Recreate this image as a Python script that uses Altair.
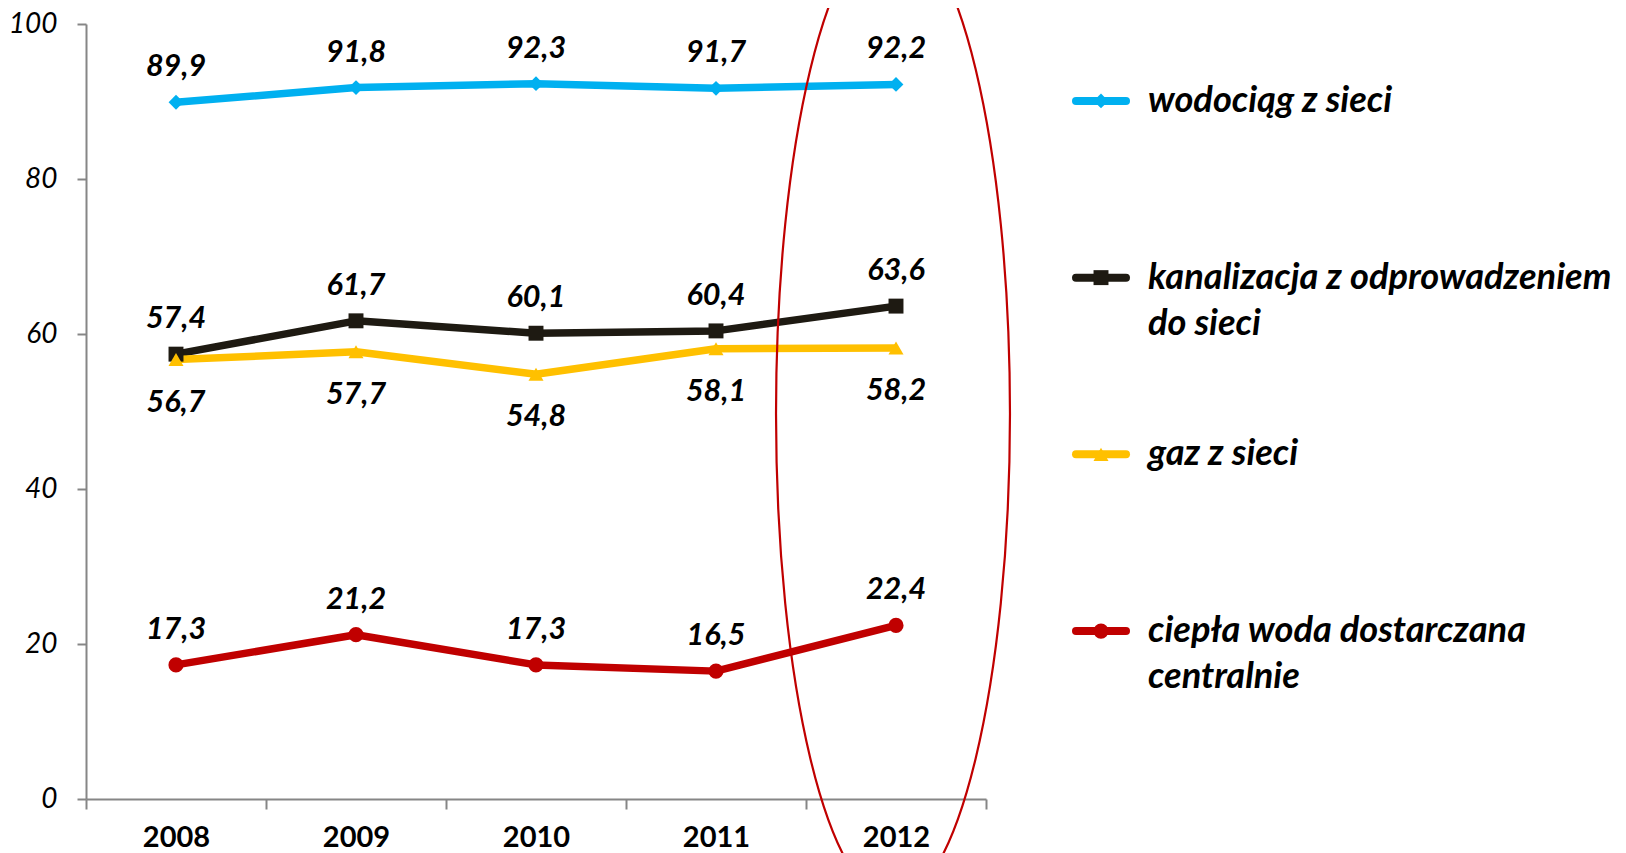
import altair as alt
import pandas as pd

# ---------------- data ----------------
years = ["2008", "2009", "2010", "2011", "2012"]
series_names = [
    "wodociąg z sieci",
    "kanalizacja z odprowadzeniem do sieci",
    "gaz z sieci",
    "ciepła woda dostarczana centralnie",
]
wodociag = [89.9, 91.8, 92.3, 91.7, 92.2]
kanalizacja = [57.4, 61.7, 60.1, 60.4, 63.6]
gaz = [56.7, 57.7, 54.8, 58.1, 58.2]
cieplo = [17.3, 21.2, 17.3, 16.5, 22.4]
label_side = ["above", "above", "below", "above"]
legend_line1 = ["wodociąg z sieci", "kanalizacja z odprowadzeniem", "gaz z sieci", "ciepła woda dostarczana"]
legend_line2 = ["", "do sieci", "", "centralnie"]
y_ticks = [0, 20, 40, 60, 80, 100]
highlight_year = ["2012"]
highlight_center = [49.7]

# ---------------- styles ----------------
colors = ["#00B0F0", "#1E1A12", "#FFC000", "#C00000"]
shapes = ["diamond", "square", "triangle-up", "circle"]
marker_sizes = [220, 230, 240, 300]
line_widths = [7.5, 7.5, 7.5, 8.5]
FONT = "Lato"
AXIS_GRAY = "#868686"

rows = []
for name, vals, side in zip(series_names, [wodociag, kanalizacja, gaz, cieplo], label_side):
    for yr, v in zip(years, vals):
        rows.append({"year": yr, "value": v, "series": name, "side": side,
                     "label": f"{v:.1f}".replace(".", ",")})
df = pd.DataFrame(rows)
hl_df = pd.DataFrame({"year": highlight_year, "value": highlight_center})
leg_df = pd.DataFrame({"series": series_names, "line1": legend_line1, "line2": legend_line2})

color_enc = alt.Color("series:N", scale=alt.Scale(domain=series_names, range=colors), legend=None)
shape_enc = alt.Shape("series:N", scale=alt.Scale(domain=series_names, range=shapes), legend=None)
size_enc = alt.Size("series:N", scale=alt.Scale(domain=series_names, range=marker_sizes), legend=None)

x_enc = alt.X(
    "year:O",
    scale=alt.Scale(type="band", domain=years, paddingInner=0, paddingOuter=0),
    bandPosition=0.5,
    axis=alt.Axis(title=None, tickBand="extent", labelAngle=0, labelFont=FONT, labelFontSize=29,
                  labelFontWeight="bold", labelColor="#000000", labelPadding=14, tickSize=10,
                  tickWidth=2, tickColor=AXIS_GRAY, domainColor=AXIS_GRAY, domainWidth=2, grid=False),
)
y_enc = alt.Y(
    "value:Q",
    scale=alt.Scale(domain=[0, 100], nice=False),
    axis=alt.Axis(title=None, values=y_ticks, labelFont=FONT, labelFontSize=28, labelFontStyle="italic",
                  labelColor="#000000", labelPadding=20, tickSize=9, tickWidth=2, tickColor=AXIS_GRAY,
                  domainColor=AXIS_GRAY, domainWidth=2, grid=False, minExtent=74, maxExtent=74),
)

text_style = dict(font=FONT, fontSize=30.5, fontWeight="bold", fontStyle="italic", color="#000000",
                  baseline="middle", align="center")

lines = alt.Chart(df).mark_line(strokeJoin="round").encode(
    x=x_enc, y=y_enc, color=color_enc,
    strokeWidth=alt.StrokeWidth("series:N", scale=alt.Scale(domain=series_names, range=line_widths), legend=None),
)
points = alt.Chart(df).mark_point(filled=True, opacity=1, strokeWidth=0).encode(
    x=x_enc, y=y_enc, color=color_enc, shape=shape_enc, size=size_enc
)
labels_above = alt.Chart(df).transform_filter(alt.datum.side == "above").mark_text(dy=-35, **text_style).encode(
    x=x_enc, y=y_enc, text="label:N"
)
labels_below = alt.Chart(df).transform_filter(alt.datum.side == "below").mark_text(dy=43, **text_style).encode(
    x=x_enc, y=y_enc, text="label:N"
)

# ellipse outline (annotation) as a custom symbol path
ea, ek = 0.2402, 0.5523
eak = round(ea * ek, 4)
ellipse_path = (f"M {ea} 0 C {ea} {ek} {eak} 1 0 1 C {-eak} 1 {-ea} {ek} {-ea} 0 "
                f"C {-ea} {-ek} {-eak} -1 0 -1 C {eak} -1 {ea} {-ek} {ea} 0 Z")
ellipse = alt.Chart(hl_df).mark_point(
    shape=ellipse_path, size=974 ** 2, filled=False, stroke="#C00000", strokeWidth=2.2, opacity=1, xOffset=-3
).encode(x=x_enc, y=y_enc)

left = alt.layer(lines, points, labels_above, labels_below, ellipse).properties(width=900, height=775)

# ---------------- legend panel ----------------
y_leg = alt.Y("series:N", scale=alt.Scale(type="point", domain=series_names, padding=0.435), axis=None)
leg_style = dict(font=FONT, fontSize=36.2, fontWeight="bold", fontStyle="italic", color="#000000",
                 baseline="middle", align="left")
leg_rule = alt.Chart(leg_df).mark_rule(strokeWidth=8, strokeCap="round").encode(
    y=y_leg, x=alt.value(4), x2=alt.value(54), color=color_enc
)
leg_marker = alt.Chart(leg_df).mark_point(filled=True, opacity=1, strokeWidth=0).encode(
    y=y_leg, x=alt.value(29), color=color_enc, shape=shape_enc, size=size_enc
)
leg_text1 = alt.Chart(leg_df).mark_text(**leg_style).encode(y=y_leg, x=alt.value(76), text="line1:N")
leg_text2 = alt.Chart(leg_df).mark_text(dy=46, **leg_style).encode(y=y_leg, x=alt.value(76), text="line2:N")

right = alt.layer(leg_rule, leg_marker, leg_text1, leg_text2).properties(width=470, height=684)

chart = alt.hconcat(left, right, spacing=86, bounds="flush").properties(
    padding={"left": 0, "top": -86, "right": 0, "bottom": 5}
).configure_view(stroke=None)

chart.save("out.html", embed_options={"renderer": "svg", "actions": False})
